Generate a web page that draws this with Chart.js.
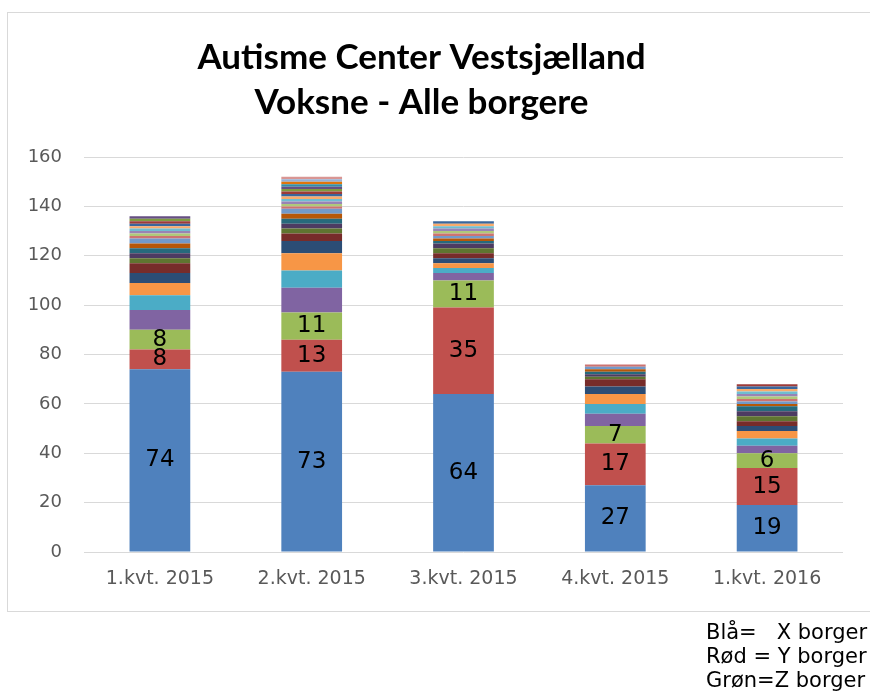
<!DOCTYPE html>
<html>
<head>
<meta charset="utf-8">
<script src="https://cdn.jsdelivr.net/npm/chart.js@4.4.1/dist/chart.umd.min.js"></script>
<style>
    html, body { margin: 0; padding: 0; background: #fff; }
    #wrap { position: relative; width: 870px; height: 697px; overflow: hidden; }
    #ramme { position: absolute; left: 7px; top: 12px; width: 900px; height: 600px; border: 1px solid #d9d9d9; box-sizing: border-box; }
    #grafik { position: absolute; left: 0; top: 0; }
    #noter { position: absolute; left: 706px; top: 620px; font-family: "DejaVu Sans", Verdana, sans-serif; font-size: 21px; line-height: 24px; color: #000; white-space: pre; }
</style>
</head>
<body>
<div id="wrap">
    <div id="ramme"></div>
    <canvas id="grafik" width="870" height="697"></canvas>
    <div id="noter">Blå=   X borger
Rød = Y borger
Grøn=Z borger</div>
</div>
<script>
// Kvartaler
const kvartaler = ['1.kvt. 2015', '2.kvt. 2015', '3.kvt. 2015', '4.kvt. 2015', '1.kvt. 2016'];

// Antal borgere pr. serie (nedefra og op) for hvert kvartal
const kvt1_2015 = [74, 8, 8, 8, 6, 5, 4, 4, 2, 2, 2, 2, 2, 1, 1, 1, 1, 1, 1, 1, 1, 1, 0, 0, 0, 0];
const kvt2_2015 = [73, 13, 11, 10, 7, 7, 5, 3, 2, 2, 2, 2, 2, 1, 1, 1, 1, 1, 1, 1, 1, 1, 1, 1, 1, 1];
const kvt3_2015 = [64, 35, 11, 3, 2, 2, 2, 2, 2, 2, 1, 1, 1, 1, 1, 1, 1, 1, 1, 0, 0, 0, 0, 0, 0, 0];
const kvt4_2015 = [27, 17, 7, 5, 4, 4, 3, 3, 1, 1, 1, 1, 1, 1, 0, 0, 0, 0, 0, 0, 0, 0, 0, 0, 0, 0];
const kvt1_2016 = [19, 15, 6, 3, 3, 3, 2, 2, 2, 2, 2, 1, 1, 1, 1, 1, 1, 1, 1, 1, 0, 0, 0, 0, 0, 0];

// Y-akse
const yMin = 0, yMax = 160, yTrin = 20;

// Office-farver
const farver = [
    '#4F81BD', '#C0504D', '#9BBB59', '#8064A2', '#4BACC6', '#F79646',
    '#2C4D75', '#772C2A', '#5F7530', '#4D3B62', '#276A7C', '#B65708',
    '#729ACA', '#CD7371', '#AFC97A', '#9983B5', '#6FBDD1', '#F9AB6B',
    '#3A679C', '#9E3B38', '#7E9C40', '#664F83', '#358EA6', '#E0750B',
    '#95B3D7', '#D99694'
];

const kolonner = [kvt1_2015, kvt2_2015, kvt3_2015, kvt4_2015, kvt1_2016];
const datasets = kvt1_2015.map((_, i) => ({
    label: 'Serie ' + (i + 1),
    data: kolonner.map(k => k[i]),
    backgroundColor: farver[i % farver.length],
    borderWidth: 0,
    barPercentage: 0.4,
    categoryPercentage: 1
}));

// Værdier skrives kun på de tre nederste serier
const dataEtiketter = {
    id: 'dataEtiketter',
    afterDatasetsDraw(chart) {
        const ctx = chart.ctx;
        ctx.save();
        ctx.font = '23px "DejaVu Sans", Verdana, sans-serif';
        ctx.fillStyle = '#000';
        ctx.textAlign = 'center';
        ctx.textBaseline = 'middle';
        [0, 1, 2].forEach(d => {
            chart.getDatasetMeta(d).data.forEach((bar, i) => {
                const v = chart.data.datasets[d].data[i];
                if (!v) return;
                ctx.fillText(String(v), bar.x, (bar.y + bar.base) / 2);
            });
        });
        ctx.restore();
    }
};

const akseFont = size => ({ family: '"DejaVu Sans", Verdana, sans-serif', size });

new Chart(document.getElementById('grafik'), {
    type: 'bar',
    data: { labels: kvartaler, datasets },
    plugins: [dataEtiketter],
    options: {
        responsive: false,
        animation: false,
        layout: { padding: { left: 0, right: 27, top: 0, bottom: 0 } },
        plugins: {
            legend: { display: false },
            tooltip: { enabled: false },
            title: {
                display: true,
                text: ['Autisme Center Vestsjælland', 'Voksne - Alle borgere'],
                color: '#000',
                font: { family: 'Lato, "Open Sans", sans-serif', size: 35, weight: 'bold', lineHeight: 1.286 },
                padding: { top: 35, bottom: 32 }
            }
        },
        scales: {
            x: {
                stacked: true,
                grid: { display: false, drawTicks: false },
                border: { display: false },
                ticks: { color: '#595959', font: akseFont(19), padding: 16 },
                afterFit(scale) { scale.height = 145; }
            },
            y: {
                stacked: true,
                min: yMin,
                max: yMax,
                ticks: { stepSize: yTrin, color: '#595959', font: akseFont(18), padding: 22 },
                grid: { color: '#d9d9d9', lineWidth: 1, drawTicks: false },
                border: { display: false },
                afterFit(scale) { scale.width = 84; }
            }
        }
    }
});
</script>
</body>
</html>
